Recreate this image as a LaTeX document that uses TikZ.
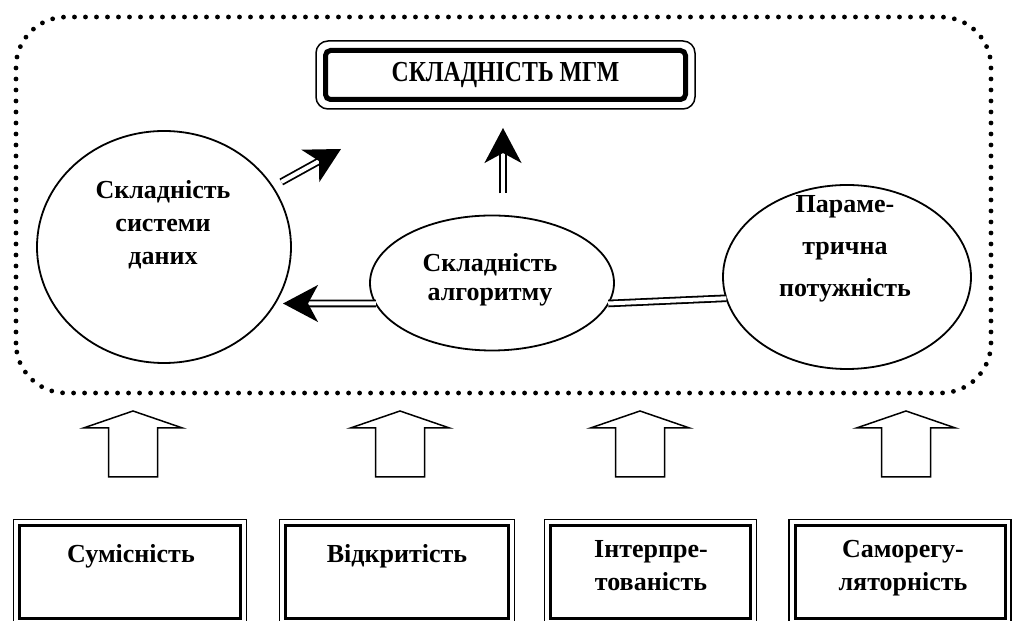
\documentclass[tikz,border=0pt]{standalone}
\usepackage{fontspec}
\setmainfont{Liberation Serif}
\newfontfamily\titlefont[FakeStretch=0.82]{Liberation Serif}
\usetikzlibrary{arrows.meta,positioning,calc,shapes.geometric}

\tikzset{
  oval/.style={ellipse, draw, line width=0.9pt, inner sep=0pt, outer sep=0pt},
  lbl/.style={align=center, font=\bfseries\fontsize{13}{16.5}\selectfont, inner sep=0pt},
  factor/.style={draw, line width=1.5pt, inner sep=0pt, outer sep=0pt, minimum height=46.5pt},
  frameline/.style={line width=0.75pt},
  dbl/.style={double, double distance=2pt, line width=0.9pt},
  tipline/.style={line width=0.9pt, -{Stealth[length=17.5pt, width=18.5pt, inset=5pt]}},
  blockarrow/.style={draw, line width=0.75pt, line join=miter},
  dotline/.style={line width=2.4pt, line cap=round, dash pattern=on 0pt off 5.5pt}
}

\begin{document}
\begin{tikzpicture}[x=0.5pt,y=0.5pt]
\useasboundingbox (0,0) rectangle (1014,621);

% Dotted frame
\draw[dotline, rounded corners=25pt] (16,228) rectangle (991,604);

% Title box
\node[draw, line width=2.5pt, rounded corners=2.5pt, minimum width=180pt, minimum height=24.5pt,
      inner sep=0pt, outer sep=0pt, font=\titlefont\bfseries\fontsize{14.5}{17}\selectfont] (mgm) at (505.5,546) {СКЛАДНІСТЬ МГМ};
\draw[frameline, rounded corners=6pt] ([shift={(-4.75pt,-4.75pt)}]mgm.south west) rectangle ([shift={(4.75pt,4.75pt)}]mgm.north east);

% Ellipses
\node[oval, minimum width=127pt, minimum height=116pt] (data) at (164,374) {};
\node[oval, minimum width=122pt, minimum height=67.5pt] (alg) at (492,338) {};
\node[oval, minimum width=124pt, minimum height=92pt] (param) at (847,344) {};

\node[lbl] (datatxt) at (163,396) {Складність\\системи\\даних};
\node[lbl, font=\bfseries\fontsize{13}{14.5}\selectfont] (algtxt) at (490,341) {Складність\\алгоритму};
\node[lbl, font=\bfseries\fontsize{13}{21}\selectfont] (paramtxt) at (845,372) {Параме-\\трична\\потужність};

% Double arrows
\coordinate (dtip) at (341,472);
\draw[dbl, shorten <=5pt, shorten >=10pt] (data.29) -- (dtip);
\draw[tipline] ($(dtip)!11pt!(data.29)$) -- (dtip);

\coordinate (vtip) at (503,493);
\draw[dbl, shorten <=11pt, shorten >=10pt] (vtip |- alg.north) -- (vtip);
\draw[tipline] ($(vtip)!11pt!(vtip |- alg.north)$) -- (vtip);

\coordinate (ltip) at (283,317.5);
\draw[dbl, shorten >=10pt] (alg.190) -- (ltip);
\draw[tipline] ($(ltip)!11pt!(alg.190)$) -- (ltip);

\draw[dbl] (alg.-10) -- (param.190);

% Block arrows
\foreach \x in {133,400,640,906}
  \draw[blockarrow] ({\x-24.5},144) -- ({\x-24.5},193) -- ({\x-49.5},193) -- (\x,210)
    -- ({\x+49.5},193) -- ({\x+24.5},193) -- ({\x+24.5},144) -- cycle;

% Factor boxes
\node[factor, minimum width=110.5pt] (compat) at (130,49) {};
\node[factor, minimum width=111.5pt] (open) at (397,49) {};
\node[factor, minimum width=100pt] (interp) at (650.5,49) {};
\node[factor, minimum width=105pt] (selfreg) at (900,49) {};
\foreach \n in {compat,open,interp,selfreg}
  \draw[frameline] ([shift={(-3pt,-3pt)}]\n.south west) rectangle ([shift={(3pt,3pt)}]\n.north east);

\node[lbl, anchor=north] (compattxt) at (131,77) {Сумісність};
\node[lbl, anchor=north] (opentxt) at (397,77) {Відкритість};
\node[lbl, anchor=north] (interptxt) at (651,81) {Інтерпре-\\тованість};
\node[lbl, anchor=north] (selfregtxt) at (903,81) {Саморегу-\\ляторність};
\end{tikzpicture}
\end{document}
